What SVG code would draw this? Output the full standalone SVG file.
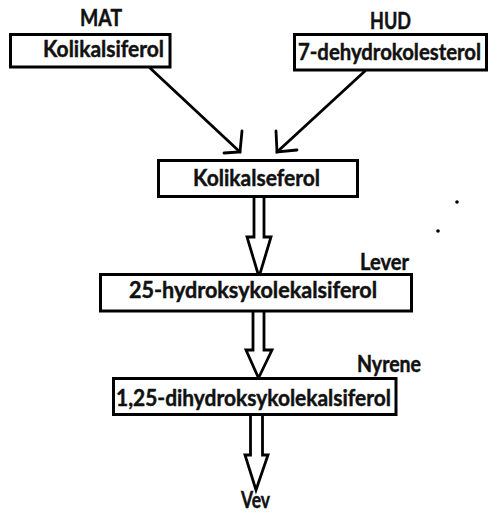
<svg xmlns="http://www.w3.org/2000/svg" width="491" height="513" viewBox="0 0 491 513">
<style>
.box{fill:#fff;stroke:#000;stroke-width:3}
.t{font-family:Lato,"Open Sans","Liberation Sans",sans-serif;font-weight:bold;font-size:22px;fill:#111;stroke:#111;stroke-width:0.45}
.ln{fill:none;stroke:#000;stroke-width:2.8;stroke-linecap:round;stroke-linejoin:miter}
.ar{fill:#fff;stroke:#000;stroke-width:2.8;stroke-linejoin:miter}
</style>
<rect width="491" height="513" fill="#fff"/>
<g id="connectors">
<path class="ln" d="M150,68 L240,152"/>
<path class="ln" d="M242,131 L240,152 L224,153"/>
<path class="ln" d="M365,71 L277,152"/>
<path class="ln" d="M276,131 L277,152 L297,150"/>
<path class="ar" d="M254,197 L254,237 L247,237 L259,277 L271,237 L264,237 L264,197"/>
<path class="ar" d="M253,312 L253,350 L246,350 L258.5,378 L272,350 L264,350 L264,312"/>
<path class="ar" d="M250.5,415 L250.5,455 L245,455 L256,490 L268,455 L262.5,455 L262.5,415"/>
</g>
<g id="mat-label"><text class="t" x="80" y="26" textLength="42" lengthAdjust="spacingAndGlyphs">MAT</text></g>
<g id="hud-label"><text class="t" x="370" y="29" textLength="41" lengthAdjust="spacingAndGlyphs">HUD</text></g>
<g id="node-mat">
<rect class="box" x="10.5" y="34.5" width="159.5" height="32.5"/>
<text class="t" x="43" y="57" textLength="121" lengthAdjust="spacingAndGlyphs">Kolikalsiferol</text>
</g>
<g id="node-hud">
<rect class="box" x="294.5" y="34.5" width="192" height="35.5"/>
<text class="t" x="298" y="60" font-size="20.5" textLength="183" lengthAdjust="spacingAndGlyphs">7-dehydrokolesterol</text>
</g>
<g id="node-kolikalseferol">
<rect class="box" x="158.5" y="160.5" width="199" height="36"/>
<text class="t" x="193" y="186" textLength="127" lengthAdjust="spacingAndGlyphs">Kolikalseferol</text>
</g>
<g id="lever-label"><text class="t" x="360" y="270" textLength="49" lengthAdjust="spacingAndGlyphs">Lever</text></g>
<g id="node-25">
<rect class="box" x="100.5" y="274.5" width="311" height="36.5"/>
<text class="t" x="129" y="298" textLength="248" lengthAdjust="spacingAndGlyphs">25-hydroksykolekalsiferol</text>
</g>
<g id="nyrene-label"><text class="t" x="357" y="372" textLength="64" lengthAdjust="spacingAndGlyphs">Nyrene</text></g>
<g id="node-125">
<rect class="box" x="113.5" y="378.5" width="282.5" height="36"/>
<text class="t" x="116" y="406" textLength="275" lengthAdjust="spacingAndGlyphs">1,25-dihydroksykolekalsiferol</text>
</g>
<g id="vev-label"><text class="t" x="241" y="508" textLength="29" lengthAdjust="spacingAndGlyphs">Vev</text></g>
<circle cx="457" cy="202" r="1.8" fill="#000"/>
<circle cx="438" cy="231" r="1.8" fill="#000"/>
</svg>
